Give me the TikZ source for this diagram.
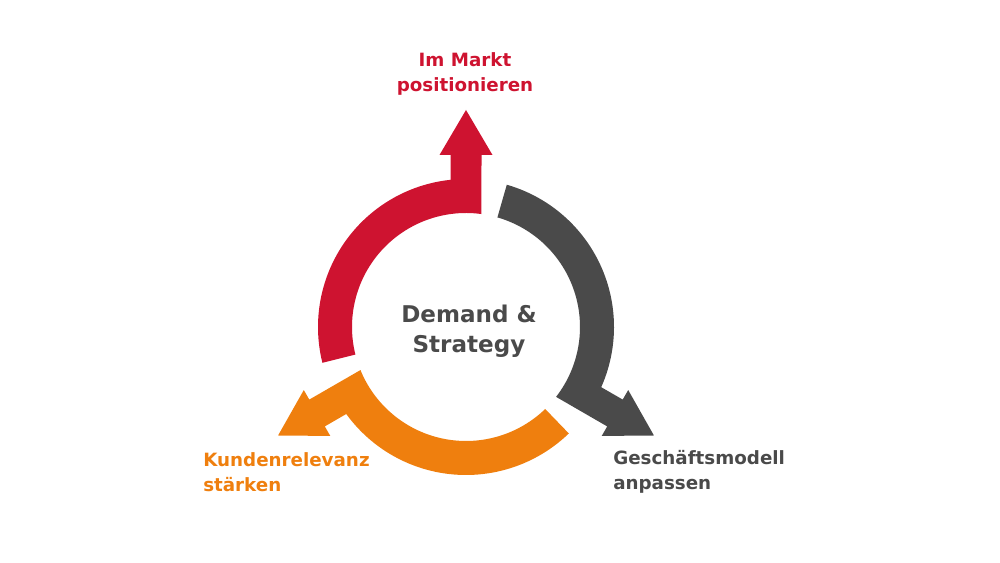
\documentclass[tikz,border=0pt]{standalone}
\usepackage{fontspec}
\setmainfont{DejaVu Sans}
\definecolor{mred}{HTML}{CE1330}
\definecolor{mgray}{HTML}{4A4A4A}
\definecolor{morange}{HTML}{EF7F0E}
\begin{document}
\begin{tikzpicture}[x=0.025cm,y=0.025cm,
    lbl/.style={font=\bfseries\fontsize{13}{17.8}\selectfont,inner sep=0pt,align=left},
    ctr/.style={font=\bfseries\fontsize{16.4}{22}\selectfont,inner sep=0pt,align=center,text=mgray}]
  \useasboundingbox (0,0) rectangle (1000,563);
  \foreach \ang/\col in {0/mred,-120/mgray,120/morange}{
    \fill[\col,shift={(466,236)},rotate=\ang] (194:148) arc[start angle=194,end angle=96,radius=148]
      -- (-15.5,172) -- (-26.5,172) -- (0,217) -- (26.5,172) -- (15.5,172)
      -- (82.2:114) arc[start angle=82.2,end angle=194,radius=114] -- cycle;
  }
  \node[ctr,anchor=base] (demand) at (469,210) {Demand \&\\Strategy};
  \node[lbl,text=mred,align=center,anchor=base] (markt) at (465,471) {Im Markt\\positionieren};
  \node[lbl,text=morange,anchor=base west] (kunden) at (203,71) {Kundenrelevanz\\stärken};
  \node[lbl,text=mgray,anchor=base west] (modell) at (613,73) {Geschäftsmodell\\anpassen};
\end{tikzpicture}
\end{document}
